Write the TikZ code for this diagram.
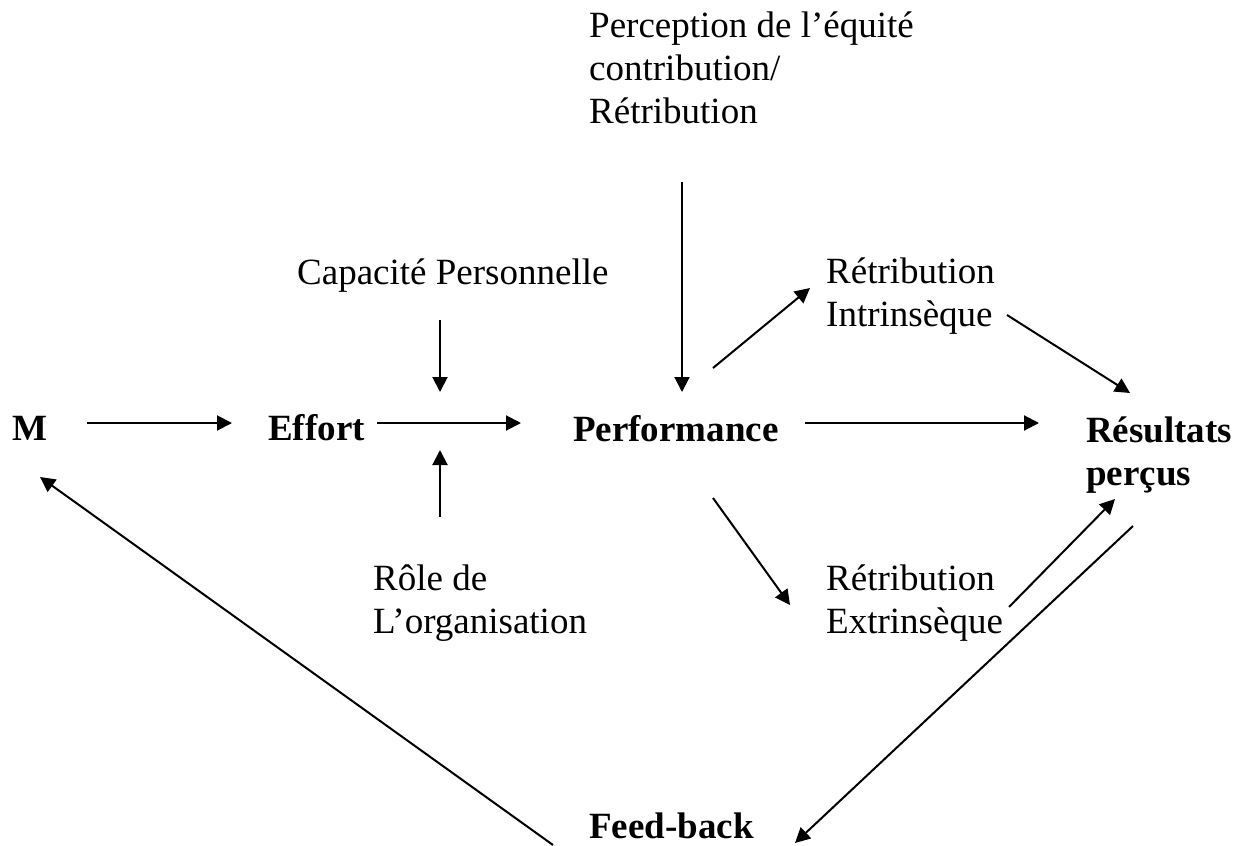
\documentclass[tikz,border=0pt]{standalone}
\usepackage{fontspec}
\setmainfont{Liberation Serif}
\usetikzlibrary{arrows.meta}

\tikzset{
  lbl/.style={inner sep=0pt,anchor=base west,align=left,font=\fontsize{37}{43}\selectfont},
  key/.style={lbl,font=\fontsize{37}{43}\selectfont\bfseries},
  arr/.style={line width=2pt,-{Triangle[length=15pt,width=15pt]}},
}

\begin{document}
\begin{tikzpicture}[x=1pt,y=-1pt]
\useasboundingbox (0,0) rectangle (1238,845);
% text of the model (base = last line)
\node[key] (M) at (12,440) {M};
\node[key] (eff) at (268,440) {Effort};
\node[key] (perf) at (573,441) {Performance};
\node[key] (res) at (1086,485) {Résultats\\perçus};
\node[key] (fb) at (589,838) {Feed-back};
\node[lbl] (perc) at (589,124) {Perception de l’équité\\contribution/\\Rétribution};
\node[lbl] (cap) at (297,284) {Capacité Personnelle};
\node[lbl] (role) at (373,633) {Rôle de\\L’organisation};
\node[lbl] (intr) at (826,326) {Rétribution\\Intrinsèque};
\node[lbl] (extr) at (826,633) {Rétribution\\Extrinsèque};
\coordinate (jn) at (440,423);
% arrows
\draw[arr] ([xshift=75pt,yshift=17pt]M.base west) -- ([xshift=-36pt,yshift=17pt]eff.base west);
\draw[arr] ([xshift=109pt,yshift=17pt]eff.base west) -- ([xshift=-52pt,yshift=18pt]perf.base west);
\draw[arr] ([xshift=143pt,yshift=-36pt]cap.base west) -- ([yshift=31pt]jn);
\draw[arr] ([xshift=67pt,yshift=116pt]role.base west) -- ([yshift=-27pt]jn);
\draw[arr] ([xshift=93pt,yshift=-58pt]perc.base west) -- ([xshift=109pt,yshift=49pt]perf.base west);
\draw[arr] ([xshift=140pt,yshift=73pt]perf.base west) -- ([xshift=-16pt,yshift=38pt]intr.base west);
\draw[arr] ([xshift=181pt,yshift=11pt]intr.base west) -- ([xshift=44pt,yshift=92pt]res.base west);
\draw[arr] ([xshift=232pt,yshift=18pt]perf.base west) -- ([xshift=-47pt,yshift=62pt]res.base west);
\draw[arr] ([xshift=140pt,yshift=-57pt]perf.base west) -- ([xshift=-36pt,yshift=28pt]extr.base west);
\draw[arr] ([xshift=183pt,yshift=26pt]extr.base west) -- ([xshift=29pt,yshift=-14pt]res.base west);
\draw[arr] ([xshift=47pt,yshift=-41pt]res.base west) -- ([xshift=206pt,yshift=-5pt]fb.base west);
\draw[arr] ([xshift=-36pt,yshift=-7pt]fb.base west) -- ([xshift=28pt,yshift=-37pt]M.base west);
\end{tikzpicture}
\end{document}
